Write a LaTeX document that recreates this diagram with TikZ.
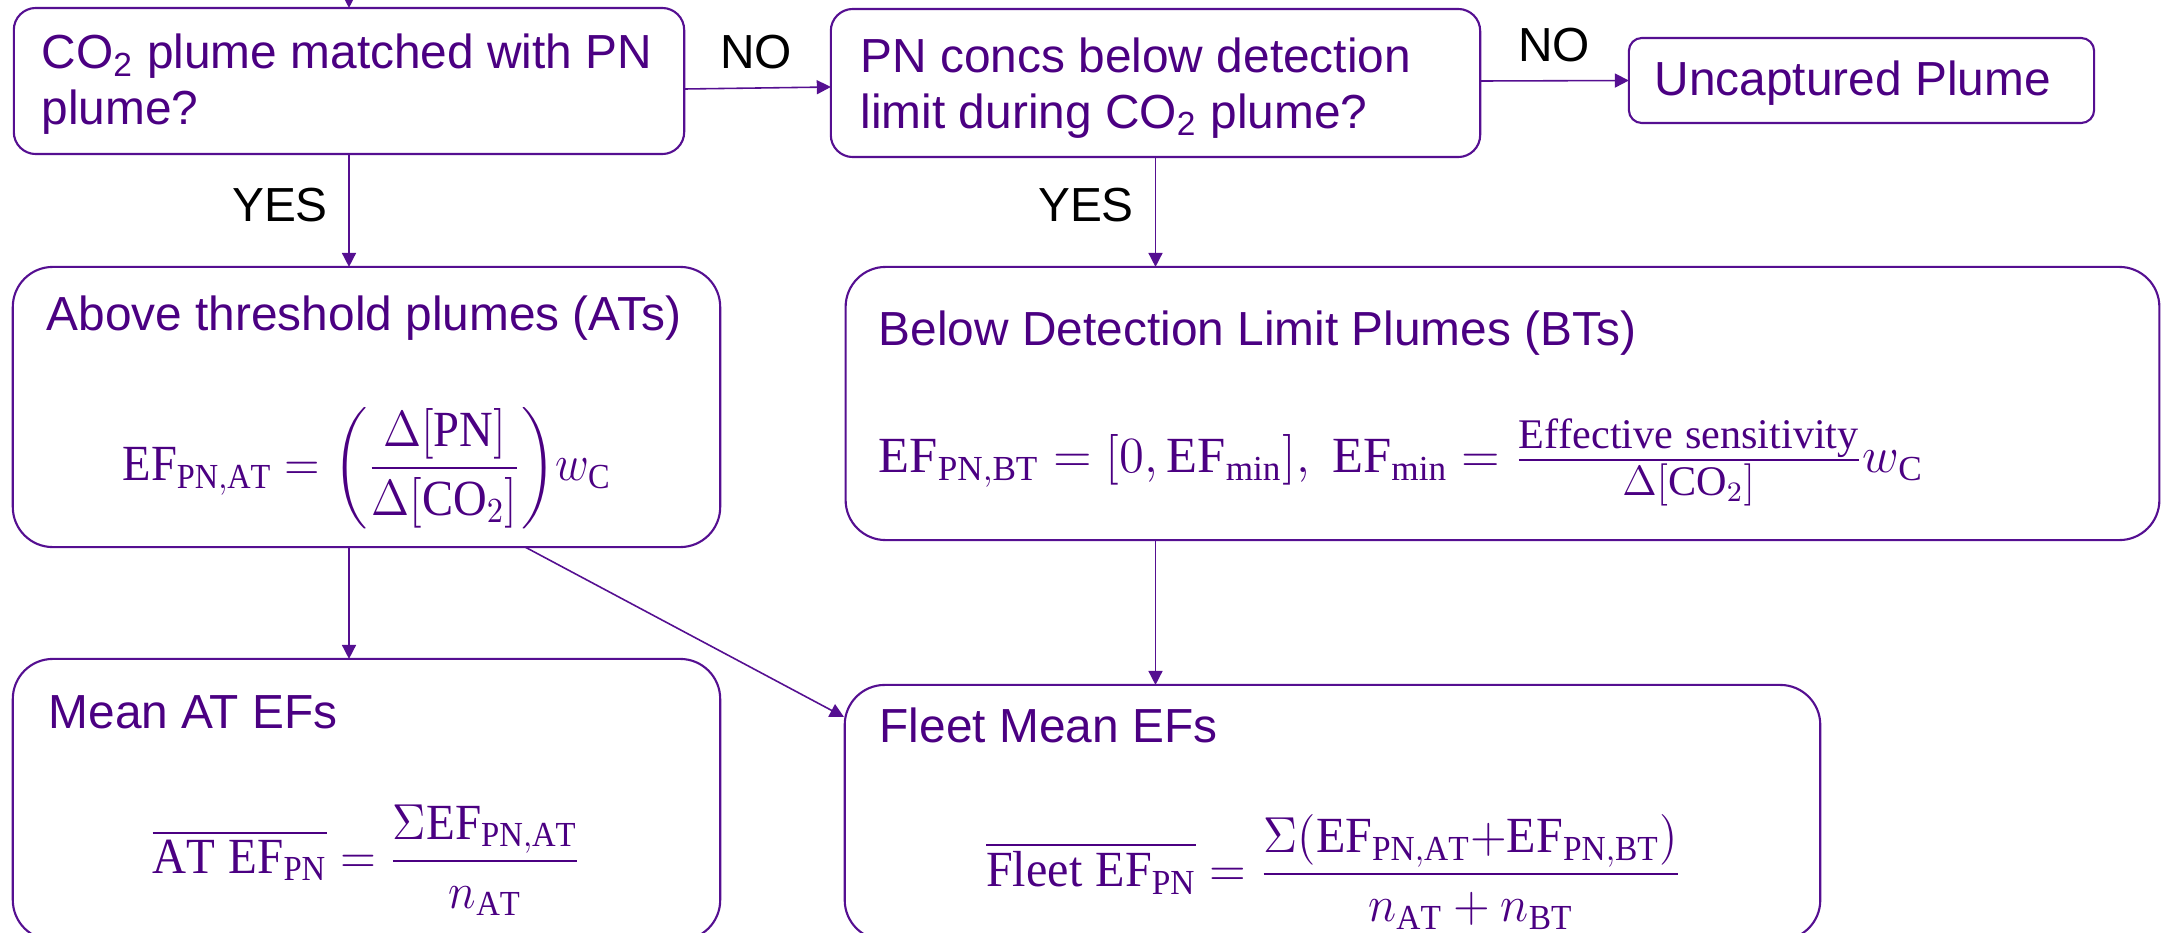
\documentclass[tikz,border=0pt]{standalone}
\usepackage{amsmath}
\usepackage{fontspec}
\setmainfont{Liberation Sans}
\setmathrm{Liberation Serif}
\usetikzlibrary{arrows.meta,calc}
\definecolor{pp}{RGB}{75,0,130}
\definecolor{pl}{RGB}{85,15,145}
\newcommand{\smallfr}[1]{\mbox{\fontsize{12}{14}\selectfont$#1$}}
\begin{document}
\begin{tikzpicture}[x=0.01cm,y=-0.01cm,
  boxs/.style={draw=pl, line width=0.6pt, inner sep=0pt, outer sep=0pt, rounded corners=#1},
  lab/.style={text=pp, font=\fontsize{13.6}{15.8}\selectfont, inner sep=0pt, align=left},
  yn/.style={text=black, font=\fontsize{13.6}{15.8}\selectfont, inner sep=0pt},
  eq/.style={text=pp, font=\fontsize{14.4}{17}\selectfont, inner sep=0pt},
  arr/.style={draw=pl, line width=0.45pt, -{Triangle[length=1.4mm,width=1.4mm]}}]
\useasboundingbox (0,0) rectangle (2162,933);
% boxes
\node[boxs=2.2mm, minimum width=6.70cm, minimum height=1.46cm] (A) at (349,81) {};
\node[boxs=2.2mm, minimum width=6.49cm, minimum height=1.48cm] (B) at (1155.5,83) {};
\node[boxs=1.3mm, minimum width=4.65cm, minimum height=0.85cm] (C) at (1861.5,80.5) {};
\node[boxs=4mm, minimum width=7.07cm, minimum height=2.80cm] (D) at (366.5,407) {};
\node[boxs=4mm, minimum width=13.13cm, minimum height=2.73cm] (E) at (1502.5,403.5) {};
\node[boxs=4mm, minimum width=7.07cm, minimum height=2.81cm] (F) at (366.5,799.5) {};
\node[boxs=4mm, minimum width=9.75cm, minimum height=2.55cm] (G) at (1332.5,812.5) {};
% texts
\node[lab, anchor=west] (tA) at (41,84) {CO\textsubscript{2} plume matched with PN\\plume?};
\node[lab, anchor=west] (tB) at (860,88) {PN concs below detection\\limit during CO\textsubscript{2} plume?};
\node[lab, anchor=west] (tC) at (1654,83) {Uncaptured Plume};
\node[lab, anchor=west] (tD) at (46,318) {Above threshold plumes (ATs)};
\node[lab, anchor=west] (tE) at (878,333) {Below Detection Limit Plumes (BTs)};
\node[lab, anchor=west] (tF) at (48,712) {Mean AT EFs};
\node[lab, anchor=west] (tG) at (879,725) {Fleet Mean EFs};
% equations
\node[eq] (eD) at (367,468) {\scalebox{0.92}[1]{$\displaystyle \mathrm{EF}_{\mathrm{PN,AT}}=\left(\frac{\Delta[\mathrm{PN}]}{\Delta[\mathrm{CO}_2]}\right)\!w_{\mathrm{C}}$}};
\node[eq, anchor=west] (eE) at (878,462) {$\mathrm{EF}_{\mathrm{PN,BT}}=[0,\mathrm{EF}_{\mathrm{min}}],\ \mathrm{EF}_{\mathrm{min}}=\frac{\smallfr{\mathrm{Effective\ sensitivity}}}{\smallfr{\Delta[\mathrm{CO}_2]}}w_{\mathrm{C}}$};
\node[eq] (eF) at (367,860) {\scalebox{0.93}[1]{$\displaystyle \overline{\mathrm{AT\;EF}_{\mathrm{PN}}}=\frac{\Sigma\mathrm{EF}_{\mathrm{PN,AT}}}{n_{\mathrm{AT}}}$}};
\node[eq] (eG) at (1334,872) {\scalebox{0.95}[1]{$\displaystyle \overline{\mathrm{Fleet\;EF}_{\mathrm{PN}}}=\frac{\Sigma(\mathrm{EF}_{\mathrm{PN,AT}}{+}\mathrm{EF}_{\mathrm{PN,BT}})}{n_{\mathrm{AT}}+n_{\mathrm{BT}}}$}};
% yes/no labels
\node[yn] (no1) at (756,52) {NO};
\node[yn] (no2) at (1554,45) {NO};
\node[yn] (yes1) at (280,205) {YES};
\node[yn] (yes2) at (1086,205) {YES};
% connectors
\coordinate (top) at ($(A.north)+(0,-40)$);
\coordinate (gin) at (844,717);
\coordinate (dout) at (525,547);
\draw[arr] (top) -- (A.north);
\draw[arr] ([yshift=-0.08cm]A.east) -- ([yshift=-0.04cm]B.west);
\draw[arr] ([yshift=0.02cm]B.east) -- (C.west);
\draw[arr] (A.south) -- (A.south |- D.north);
\draw[arr] (B.south) -- (B.south |- E.north);
\draw[arr] (A.south |- D.south) -- (A.south |- F.north);
\draw[arr] (B.south |- E.south) -- (B.south |- G.north);
\draw[arr] (dout) -- (gin);
\end{tikzpicture}
\end{document}
